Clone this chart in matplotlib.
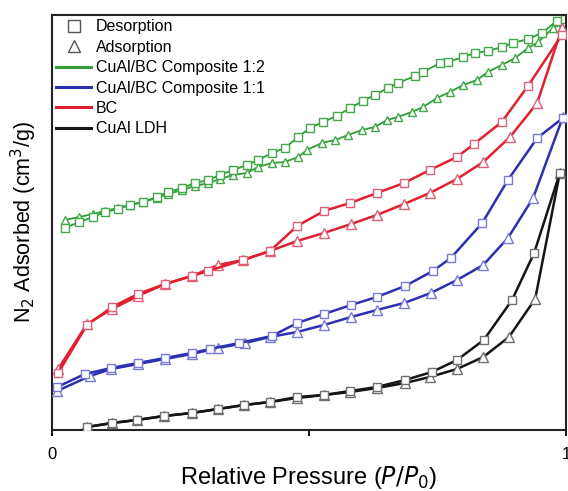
import matplotlib
matplotlib.use("Agg")
import matplotlib.pyplot as plt
from matplotlib.lines import Line2D

plt.rcParams['font.family'] = ['Liberation Sans', 'DejaVu Sans']

# ---------------- data (relative pressure, amount adsorbed, arbitrary units) -------------
green_des_x = [0.025, 0.053, 0.080, 0.103, 0.128, 0.152, 0.177, 0.204, 0.226, 0.253,
               0.278, 0.304, 0.327, 0.352, 0.379, 0.401, 0.428, 0.453, 0.479, 0.502,
               0.527, 0.554, 0.580, 0.605, 0.628, 0.654, 0.673, 0.706, 0.722, 0.755,
               0.770, 0.800, 0.823, 0.848, 0.875, 0.897, 0.926, 0.953, 0.982, 0.998]
green_des_y = [202, 208, 213, 218, 221, 225, 228, 233, 238, 242,
               247, 250, 255, 260, 265, 270, 277, 282, 293, 302,
               308, 314, 322, 329, 335, 342, 347, 354, 358, 367,
               368, 373, 377, 379, 383, 387, 391, 397, 409, 411]
green_ads_x = [0.025, 0.053, 0.080, 0.103, 0.128, 0.152, 0.177, 0.204, 0.226, 0.253,
               0.278, 0.304, 0.327, 0.352, 0.379, 0.401, 0.428, 0.453, 0.479, 0.496,
               0.525, 0.551, 0.576, 0.603, 0.628, 0.652, 0.673, 0.700, 0.722, 0.749,
               0.774, 0.800, 0.827, 0.848, 0.875, 0.901, 0.926, 0.946, 0.975, 0.994]
green_ads_y = [210, 213, 216, 219, 222, 225, 228, 232, 236, 240,
               244, 247, 251, 255, 257, 263, 267, 268, 273, 280,
               287, 290, 295, 300, 303, 310, 313, 318, 323, 332,
               338, 345, 350, 358, 365, 372, 382, 388, 402, 407]

red_des_x = [0.012, 0.068, 0.117, 0.167, 0.220, 0.272, 0.304, 0.372, 0.424, 0.477,
             0.529, 0.580, 0.632, 0.685, 0.735, 0.788, 0.821, 0.875, 0.926, 0.992]
red_des_y = [57, 105, 123, 136, 146, 154, 159, 170, 179, 204,
             219, 227, 237, 247, 260, 273, 286, 308, 344, 395]
red_ads_x = [0.012, 0.068, 0.117, 0.167, 0.220, 0.272, 0.323, 0.372, 0.424, 0.477,
             0.529, 0.582, 0.632, 0.685, 0.735, 0.788, 0.839, 0.891, 0.944, 0.992]
red_ads_y = [61, 106, 121, 134, 146, 154, 165, 170, 179, 189,
             197, 206, 215, 226, 237, 251, 268, 293, 327, 402]

blue_des_x = [0.010, 0.064, 0.115, 0.167, 0.220, 0.272, 0.307, 0.364, 0.428, 0.477,
              0.529, 0.582, 0.632, 0.687, 0.741, 0.776, 0.837, 0.887, 0.944, 0.994]
blue_des_y = [43, 56, 62, 67, 72, 77, 81, 87, 94, 107,
              116, 125, 133, 144, 159, 172, 207, 250, 292, 312]
blue_ads_x = [0.010, 0.074, 0.115, 0.167, 0.220, 0.272, 0.323, 0.376, 0.424, 0.477,
              0.529, 0.582, 0.632, 0.685, 0.737, 0.788, 0.839, 0.887, 0.936, 0.994]
blue_ads_y = [39, 54, 61, 66, 71, 76, 82, 87, 93, 98,
              105, 113, 120, 127, 137, 150, 165, 192, 232, 313]

black_des_x = [0.068, 0.117, 0.165, 0.218, 0.272, 0.323, 0.374, 0.424, 0.477, 0.529,
               0.580, 0.632, 0.687, 0.739, 0.788, 0.840, 0.895, 0.938, 0.988]
black_des_y = [3, 7, 10, 14, 17, 21, 25, 28, 33, 35,
               39, 43, 50, 58, 70, 90, 130, 177, 257]
black_ads_x = [0.015, 0.068, 0.117, 0.165, 0.218, 0.272, 0.323, 0.374, 0.424, 0.477,
               0.529, 0.580, 0.632, 0.687, 0.735, 0.788, 0.839, 0.889, 0.940, 0.988]
black_ads_y = [-15, 3, 7, 10, 14, 17, 21, 25, 28, 32,
               35, 38, 42, 47, 53, 61, 73, 93, 131, 257]

series_names = ["CuAl/BC Composite 1:2", "CuAl/BC Composite 1:1", "BC", "CuAl LDH"]
x_ticks = [0, 0.5, 1]
x_ticklabels = ["0", "", "1"]

# ---------------- styles ----------------
line_colors = ["#2f9e35", "#2b2fb0", "#e0202e", "#151515"]
marker_colors = ["#43a84a", "#7a78d8", "#e0607a", "#707070"]
series = [
    (green_des_x, green_des_y, green_ads_x, green_ads_y),
    (blue_des_x, blue_des_y, blue_ads_x, blue_ads_y),
    (red_des_x, red_des_y, red_ads_x, red_ads_y),
    (black_des_x, black_des_y, black_ads_x, black_ads_y),
]

fig = plt.figure(figsize=(5.68, 4.91), dpi=100)
ax = fig.add_axes([52 / 568, 61 / 491, 514 / 568, 415 / 491])

for i, (dx, dy, axx, ayy) in enumerate(series):
    lw = 1.3 if i == 0 else 1.8
    ms = 6.0 if i == 0 else 6.8
    ax.plot(axx, ayy, color=line_colors[i], lw=lw, marker='^', ms=ms,
            mfc='white', mec=marker_colors[i], mew=1.0, zorder=2 + i)
    ax.plot(dx, dy, color=line_colors[i], lw=lw, marker='s', ms=ms - 0.6,
            mfc='white', mec=marker_colors[i], mew=1.0, zorder=2 + i)

ax.set_xlim(0, 1)
ax.set_ylim(0, 415)
ax.set_xticks(x_ticks)
ax.set_xticklabels(x_ticklabels, fontsize=12)
ax.set_yticks([])
ax.tick_params(axis='x', direction='out', length=4, width=1.3, pad=8)
for s in ax.spines.values():
    s.set_linewidth(1.5)
    s.set_color('#222222')

ax.set_xlabel("Relative Pressure ($\\mathit{P/P_0}$)", fontsize=17, labelpad=2)
ax.set_ylabel("N$_2$ Adsorbed (cm$^3$/g)", fontsize=15.5, labelpad=9)

handles = [
    Line2D([], [], ls='none', marker='s', ms=8, mfc='white', mec='#555555', mew=1.0),
    Line2D([], [], ls='none', marker='^', ms=9, mfc='white', mec='#555555', mew=1.0),
]
labels = ["Desorption", "Adsorption"]
for c, n in zip(line_colors, series_names):
    handles.append(Line2D([], [], color=c, lw=2.2))
    labels.append(n)
leg = ax.legend(handles, labels, loc='upper left', bbox_to_anchor=(0.0, 1.0),
                frameon=False, fontsize=11.5, handlelength=2.2, handletextpad=0.3,
                labelspacing=0.34, borderaxespad=0.15, borderpad=0.12)

fig.savefig("out.png", dpi=100)
